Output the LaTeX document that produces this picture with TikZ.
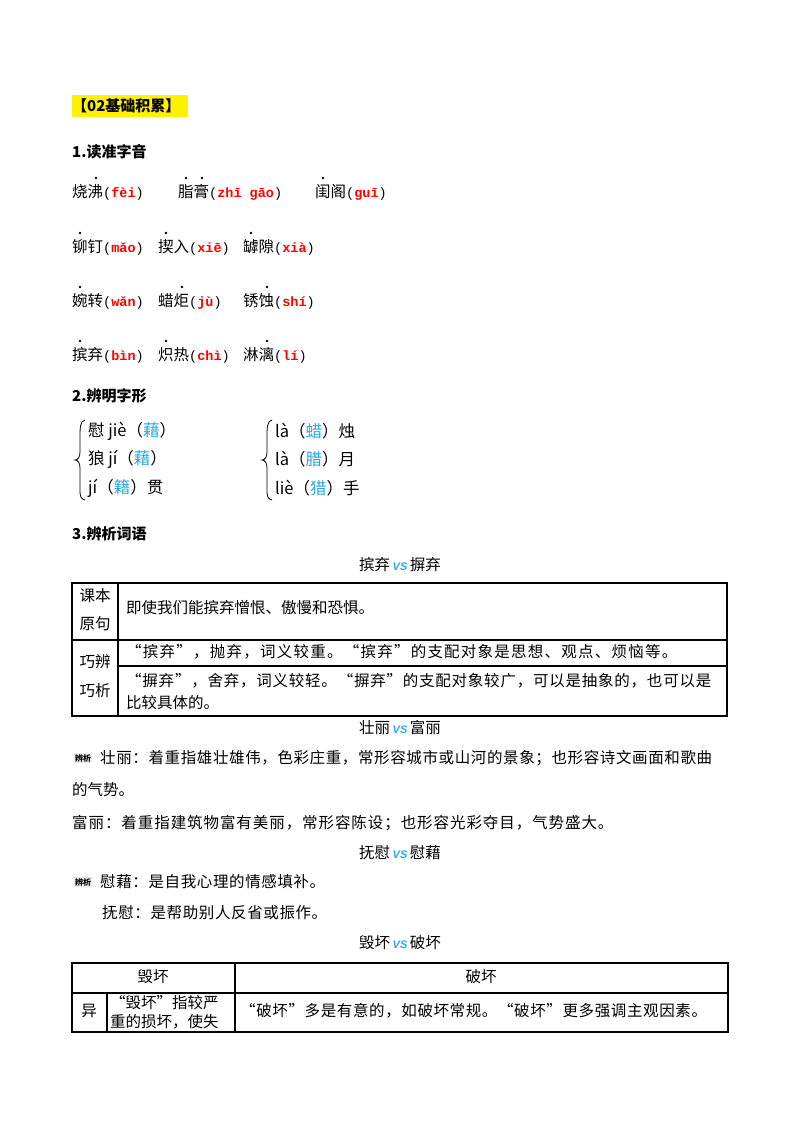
\documentclass[tikz,border=0pt]{standalone}
\usepackage{fontspec}
\setmainfont{Noto Sans CJK SC}
\newfontfamily\pymono{Liberation Mono}
\newfontfamily\lsans{Liberation Sans}
\definecolor{vsblue}{HTML}{2AA7E0}
\definecolor{pyred}{HTML}{FF0000}
\newcommand{\fs}{\fontsize{15.5}{18}\selectfont}
\newcommand{\pyr}[1]{{\pymono\fontsize{13.5}{16}\selectfont(\textcolor{pyred}{\bfseries #1})}}
\newcommand{\bl}[1]{\textcolor{vsblue}{#1}}
\newcommand{\vsmark}{\,{\lsans\fontsize{11}{12}\selectfont\bfseries\itshape\textcolor{vsblue}{VS}}\,}
\newcommand{\ls}[1]{\addfontfeature{LetterSpace=#1}}
\begin{document}
\begin{tikzpicture}[x=1pt,y=-1pt,
  t/.style={anchor=west,inner sep=0,font=\fs},
  c/.style={anchor=center,inner sep=0,font=\fs},
  h/.style={anchor=west,inner sep=0,font=\fontsize{15}{18}\selectfont\bfseries},
  dot/.style={fill=black,draw=none},
  lbl/.style={anchor=west,inner sep=1pt,fill=gray!18,font=\fontsize{8}{9}\selectfont\bfseries},
  tb/.style={line width=1.3pt},
  br/.style={line width=0.8pt}]
\useasboundingbox (0,0) rectangle (800,1132);
% title
\fill[yellow] (72,95) rectangle (188,117);
\node[h] (title) at (72,106) {【02基础积累】};
\node[h] (s1) at (72,152) {1.读准字音};
% row1
\node[t] (r1a) at (72,192) {烧沸\pyr{fèi}};
\node[t] (r1b) at (178,192) {脂膏\pyr{zhī gāo}};
\node[t] (r1c) at (315,192) {闺阁\pyr{guī}};
\node[t] (r2a) at (72,247) {铆钉\pyr{mǎo}};
\node[t] (r2b) at (158,247) {揳入\pyr{xiē}};
\node[t] (r2c) at (243,247) {罅隙\pyr{xià}};
\node[t] (r3a) at (72,301) {婉转\pyr{wǎn}};
\node[t] (r3b) at (158,301) {蜡炬\pyr{jù}};
\node[t] (r3c) at (243,301) {锈蚀\pyr{shí}};
\node[t] (r4a) at (72,355) {摈弃\pyr{bìn}};
\node[t] (r4b) at (158,355) {炽热\pyr{chì}};
\node[t] (r4c) at (243,355) {淋漓\pyr{lí}};
\foreach \x/\y in {96/178,186/178,202/178,323/178,
  80/233,166/233,251/233, 80/287,182/287,267/287, 80/341,166/341,267/341}
  \fill[dot] (\x,\y) circle (1.3);
% section 2
\node[h] (s2) at (72,396) {2.辨明字形};
\draw[br] (85,420) .. controls (80,421) and (80,428) .. (80,438) -- (80,452) .. controls (80,457) and (78,460) .. (75,460) .. controls (78,460) and (80,463) .. (80,468) -- (80,490) .. controls (80,497) and (81,499) .. (85,500);
\draw[br] (272,420) .. controls (267,421) and (267,428) .. (267,438) -- (267,452) .. controls (267,457) and (265,460) .. (262,460) .. controls (265,460) and (267,463) .. (267,468) -- (267,490) .. controls (267,497) and (268,499) .. (272,500);
\begin{scope}[every node/.style={anchor=west,inner sep=0,font=\fontsize{16.5}{18}\selectfont}]
\node (b1) at (88,431) {慰 jiè（\bl{藉}）};
\node (b2) at (88,459) {狼 jí（\bl{藉}）};
\node (b3) at (88,488) {jí（\bl{籍}）贯};
\node (b4) at (275,431) {là（\bl{蜡}）烛};
\node (b5) at (275,459) {là（\bl{腊}）月};
\node (b6) at (275,488) {liè（\bl{猎}）手};
\end{scope}
% section 3
\node[h] (s3) at (72,534) {3.辨析词语};
\node[c] (v1) at (400,565) {摈弃\vsmark 摒弃};
% table 1
\draw[tb] (72,583) rectangle (727,716);
\draw[tb] (118,583) -- (118,716);
\draw[tb] (72,640) -- (727,640);
\draw[tb] (118,666) -- (727,666);
\node[c] (k1) at (95,596) {课本};
\node[c] (k2) at (95,624) {原句};
\node[c] (q1) at (95,662) {巧辨};
\node[c] (q2) at (95,691) {巧析};
\node[t] (t1) at (126,608) {即使我们能摈弃憎恨、傲慢和恐惧。};
\node[t] (t2) at (126,652) {\ls{8}“摈弃”，抛弃，词义较重。“摈弃”的支配对象是思想、观点、烦恼等。};
\node[t] (t3) at (126,681) {\ls{5}“摒弃”，舍弃，词义较轻。“摒弃”的支配对象较广，可以是抽象的，也可以是};
\node[t] (t4) at (126,703) {比较具体的。};
\node[c] (v2) at (400,728) {壮丽\vsmark 富丽};
\node[lbl] (l1) at (74,758) {辨析};
\node[t] (p1) at (100,758) {\ls{4}壮丽：着重指雄壮雄伟，色彩庄重，常形容城市或山河的景象；也形容诗文画面和歌曲};
\node[t] (p2) at (72,790) {的气势。};
\node[t] (p3) at (72,823) {\ls{6}富丽：着重指建筑物富有美丽，常形容陈设；也形容光彩夺目，气势盛大。};
\node[c] (v3) at (400,853) {抚慰\vsmark 慰藉};
\node[lbl] (l2) at (74,882) {辨析};
\node[t] (p4) at (100,882) {\ls{4}慰藉：是自我心理的情感填补。};
\node[t] (p5) at (102,913) {\ls{4}抚慰：是帮助别人反省或振作。};
\node[c] (v4) at (400,943) {毁坏\vsmark 破坏};
% table 2
\draw[tb] (72,963) rectangle (728,1032);
\draw[tb] (72,993) -- (728,993);
\draw[tb] (235,963) -- (235,1032);
\draw[tb] (107,993) -- (107,1032);
\node[c] (h1) at (153,977) {毁坏};
\node[c] (h2) at (481,977) {破坏};
\node[c] (y1) at (89,1011) {异};
\node[t] (y2) at (110,1003) {“毁坏”指较严};
\node[t] (y3) at (110,1022) {重的损坏，使失};
\node[t] (y4) at (240,1011) {\ls{4}“破坏”多是有意的，如破坏常规。“破坏”更多强调主观因素。};
\end{tikzpicture}
\end{document}
